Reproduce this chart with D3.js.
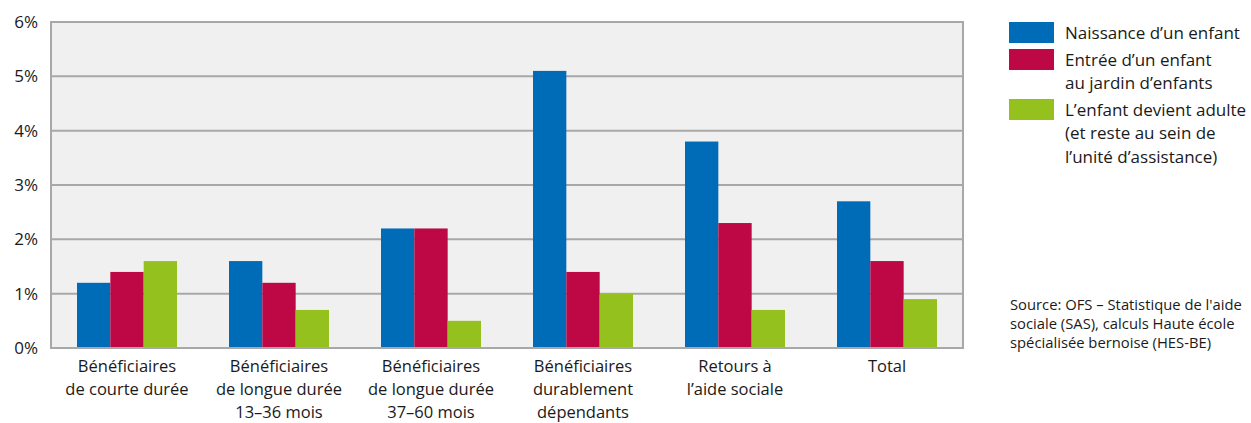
<!DOCTYPE html>
<html><head><meta charset="utf-8">
<script src="https://cdn.jsdelivr.net/npm/d3@7"></script>
<style>body{margin:0;background:#fff}svg{display:block}text{font-family:"Open Sans",sans-serif;fill:#1a1a1a}</style>
</head><body><svg id="c" width="1251" height="423"></svg>
<script>
const categories = [
  ["Bénéficiaires","de courte durée"],
  ["Bénéficiaires","de longue durée","13–36 mois"],
  ["Bénéficiaires","de longue durée","37–60 mois"],
  ["Bénéficiaires","durablement","dépendants"],
  ["Retours à","l’aide sociale"],
  ["Total"]
];
const seriesNames = [
  ["Naissance d’un enfant"],
  ["Entrée d’un enfant","au jardin d’enfants"],
  ["L’enfant devient adulte","(et reste au sein de","l’unité d’assistance)"]
];
const naissance = [1.2, 1.6, 2.2, 5.1, 3.8, 2.7];
const jardin    = [1.4, 1.2, 2.2, 1.4, 2.3, 1.6];
const adulte    = [1.6, 0.7, 0.5, 1.0, 0.7, 0.9];
const yTicks = [0,1,2,3,4,5,6];
const colors = ["#006cb7","#be0846","#95c11f"];
const sourceLines = ["Source: OFS – Statistique de l'aide","sociale (SAS), calculs Haute école","spécialisée bernoise (HES-BE)"];

const series = [naissance, jardin, adulte];
const svg = d3.select("#c");
const L=51, R=963, T=22, B=348;
const x0 = d3.scaleBand().domain(d3.range(categories.length)).range([L,R]).padding(0);
const gw = 100;
const x1 = d3.scaleBand().domain(d3.range(3)).range([(x0.bandwidth()-gw)/2,(x0.bandwidth()+gw)/2]).padding(0);
const y = d3.scaleLinear().domain([0,6]).range([B,T]);

svg.append("rect").attr("x",L).attr("y",T).attr("width",R-L).attr("height",B-T).attr("fill","#f0f0f0");
svg.append("g").selectAll("line").data(yTicks).join("line")
  .attr("x1",L).attr("x2",R).attr("y1",d=>y(d)).attr("y2",d=>y(d))
  .attr("stroke","#a8a8a8").attr("stroke-width",2);
svg.append("line").attr("x1",L).attr("x2",L).attr("y1",T-1).attr("y2",B+1).attr("stroke","#a8a8a8").attr("stroke-width",2);
svg.append("line").attr("x1",R).attr("x2",R).attr("y1",T-1).attr("y2",B+1).attr("stroke","#a8a8a8").attr("stroke-width",2);

const g = svg.append("g");
categories.forEach((c,i)=>{
  series.forEach((s,j)=>{
    g.append("rect").attr("x",x0(i)+x1(j)).attr("width",x1.bandwidth())
     .attr("y",y(s[i])).attr("height",y(0)-y(s[i])-1).attr("fill",colors[j]);
  });
});

svg.append("g").selectAll("text").data(yTicks).join("text")
  .attr("x",38).attr("y",d=>y(d)).attr("dy","0.35em").attr("text-anchor","end")
  .style("font-size","17px").text(d=>d+"%");

categories.forEach((c,i)=>{
  const t = svg.append("text").attr("text-anchor","middle").style("font-size","16.5px");
  c.forEach((ln,k)=>t.append("tspan").attr("x",x0(i)+x0.bandwidth()/2).attr("y",372+k*23).text(ln));
});

const legY=[22,49,99];
seriesNames.forEach((n,j)=>{
  svg.append("rect").attr("x",1009).attr("y",legY[j]).attr("width",45).attr("height",21).attr("fill",colors[j]);
  const t = svg.append("text").style("font-size","17px");
  n.forEach((ln,k)=>t.append("tspan").attr("x",1065).attr("y",legY[j]+16.5+k*23.5).text(ln));
});

const st = svg.append("text").style("font-size","14px");
const tsp = sourceLines.map((ln,k)=>st.append("tspan").attr("x",1010).attr("y",310+k*19).text(ln));
const w = tsp[0].node().getComputedTextLength();
const fs = Math.min(16, 14*232/w);
st.style("font-size", fs+"px");
</script></body></html>
